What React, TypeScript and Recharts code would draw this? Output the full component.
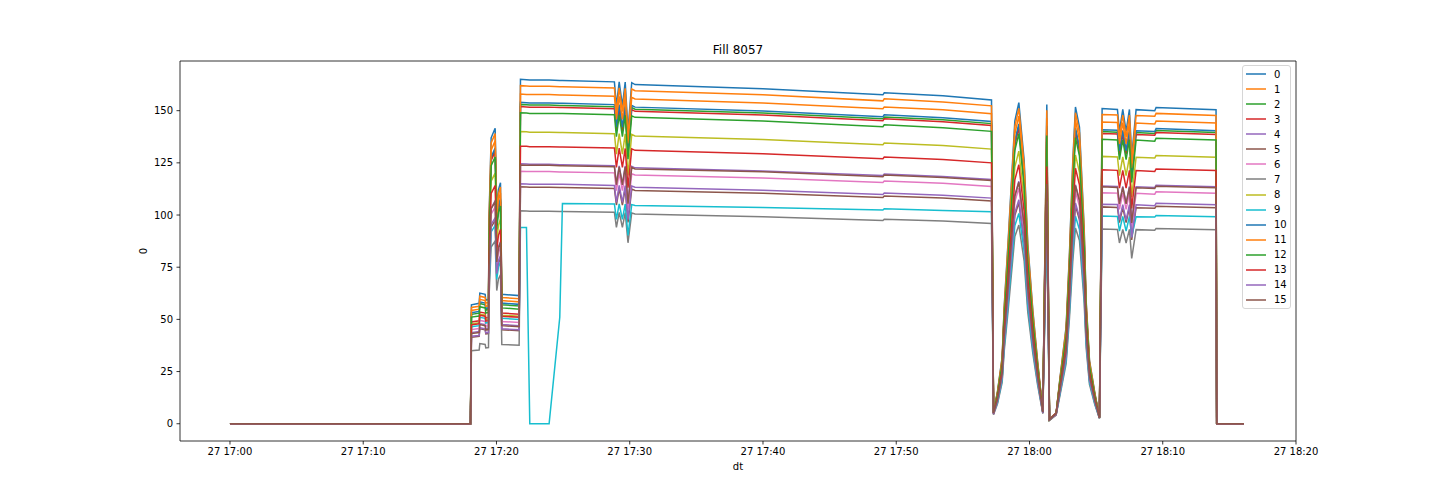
import React from "react";
import { LineChart, Line, XAxis, YAxis, ReferenceArea, Label } from "recharts";

// minutes after 27 17:00
const minutes = [0, 18.05, 18.12, 18.7, 18.75, 19.15, 19.2, 19.4, 19.45, 19.6, 19.9, 20.02, 20.15, 20.3, 20.4, 21.7, 21.8, 22.25, 22.5, 23.95, 24.75, 24.95, 28.85, 29.0, 29.21, 29.45, 29.66, 29.87, 30.15, 30.4, 40, 49, 49.1, 53.5, 57.15, 57.3, 57.6, 57.95, 58.1, 58.4, 58.9, 59.2, 59.6, 59.87, 60.25, 60.6, 61.0, 61.3, 61.5, 62.0, 62.3, 62.75, 63.0, 63.25, 63.45, 63.75, 64.1, 64.25, 64.5, 64.9, 65.25, 65.45, 66.6, 66.75, 67.0, 67.25, 67.5, 67.67, 68.0, 69.4, 69.5, 74.0, 74.05, 76.1];

const ch0 = [0, 0, 57.0, 57.7, 62.6, 62.0, 59.2, 59.5, 100.7, 137.0, 141.6, 103.1, 112.2, 115.5, 62.0, 61.4, 165.0, 164.8, 164.7, 164.7, 164.5, 164.5, 163.8, 152.3, 163.8, 152.3, 163.7, 140.3, 163.4, 162.5, 160.5, 157.6, 158.6, 157.1, 155.1, 5.5, 15.5, 32.0, 55.9, 87.9, 145.0, 153.9, 126.1, 86.6, 54.5, 30.5, 6.0, 153.0, 2.0, 5.0, 22.6, 46.5, 81.8, 126.1, 151.8, 142.1, 94.4, 59.2, 30.5, 14.9, 3.0, 151.0, 150.6, 140.1, 150.6, 140.1, 150.6, 128.0, 150.5, 150.0, 151.5, 150.5, 0, 0];
const ch1 = [0, 0, 55.7, 56.3, 61.1, 60.5, 57.8, 58.1, 98.8, 134.5, 139.0, 101.3, 110.2, 113.4, 60.5, 59.9, 162.0, 161.8, 161.7, 161.7, 161.5, 161.5, 160.9, 149.5, 160.9, 149.5, 160.7, 137.7, 160.4, 159.6, 157.6, 154.7, 155.7, 154.2, 152.3, 5.6, 15.2, 31.4, 54.9, 86.3, 142.4, 151.1, 123.8, 85.1, 53.5, 30.0, 5.8, 150.2, 2.1, 5.1, 22.2, 45.7, 80.4, 123.8, 149.0, 139.5, 92.7, 58.2, 30.0, 14.6, 3.1, 148.2, 147.9, 137.5, 147.9, 137.5, 147.9, 125.7, 147.7, 147.3, 148.7, 147.7, 0, 0];
const ch2 = [0, 0, 52.4, 53.0, 57.6, 57.0, 54.4, 54.7, 93.3, 127.0, 131.3, 95.6, 104.0, 107.1, 57.0, 56.4, 153.0, 152.8, 152.7, 152.7, 152.5, 152.5, 151.9, 141.2, 151.9, 141.2, 151.8, 130.1, 151.5, 150.7, 148.9, 146.1, 147.0, 145.7, 143.8, 5.2, 14.4, 29.7, 51.9, 81.5, 134.5, 142.7, 116.9, 80.3, 50.5, 28.3, 5.7, 141.8, 1.8, 4.8, 21.0, 43.1, 75.9, 116.9, 140.8, 131.7, 87.5, 54.9, 28.3, 13.8, 2.8, 140.0, 139.7, 129.9, 139.7, 129.9, 139.7, 118.7, 139.5, 139.1, 140.5, 139.5, 0, 0];
const ch3 = [0, 0, 48.8, 49.3, 53.5, 53.0, 50.6, 50.9, 92.7, 126.2, 130.4, 95.0, 103.4, 106.4, 53.0, 52.5, 152.0, 151.8, 151.7, 151.7, 151.5, 151.5, 150.9, 140.3, 150.9, 140.3, 150.8, 129.2, 150.5, 149.7, 147.9, 145.2, 146.1, 144.7, 142.9, 5.4, 14.3, 29.5, 51.5, 81.0, 133.6, 141.8, 116.1, 79.8, 50.2, 28.1, 6.0, 140.9, 2.2, 5.2, 20.8, 42.9, 75.4, 116.1, 139.8, 130.9, 86.9, 54.6, 28.1, 13.7, 3.2, 139.1, 138.8, 129.0, 138.8, 129.0, 138.8, 118.0, 138.6, 138.2, 139.5, 138.6, 0, 0];
const ch4 = [0, 0, 43.7, 44.2, 48.0, 47.5, 45.4, 45.6, 75.9, 103.3, 106.8, 77.8, 84.7, 87.2, 47.5, 47.0, 124.5, 124.4, 124.3, 124.3, 124.1, 124.1, 123.6, 114.9, 123.6, 114.9, 123.5, 105.8, 123.3, 122.6, 121.1, 118.9, 119.6, 118.5, 117.0, 4.9, 11.7, 24.2, 42.2, 66.4, 109.4, 116.2, 95.1, 65.4, 41.1, 23.0, 5.4, 115.4, 1.9, 4.6, 17.1, 35.1, 61.8, 95.1, 114.5, 107.2, 71.2, 44.7, 23.0, 11.2, 2.8, 113.9, 113.7, 105.7, 113.7, 105.7, 113.7, 96.6, 113.5, 113.2, 114.3, 113.5, 0, 0];
const ch5 = [0, 0, 41.4, 41.9, 45.5, 45.0, 43.0, 43.2, 69.2, 94.2, 97.4, 70.9, 77.2, 79.5, 45.0, 44.6, 113.5, 113.4, 113.3, 113.3, 113.2, 113.2, 112.7, 104.8, 112.7, 104.8, 112.6, 96.5, 112.4, 111.8, 110.4, 108.4, 109.1, 108.1, 106.7, 4.6, 10.7, 22.0, 38.5, 60.5, 99.8, 105.9, 86.7, 59.6, 37.5, 21.0, 5.1, 105.2, 1.8, 4.3, 15.5, 32.0, 56.3, 86.7, 104.4, 97.7, 64.9, 40.7, 21.0, 10.2, 2.6, 103.9, 103.6, 96.4, 103.6, 96.4, 103.6, 88.1, 103.5, 103.2, 104.2, 103.5, 0, 0];
const ch6 = [0, 0, 45.1, 45.6, 49.5, 49.0, 46.8, 47.0, 73.8, 100.4, 103.8, 75.6, 82.3, 84.7, 49.0, 48.5, 121.0, 120.9, 120.8, 120.8, 120.6, 120.6, 120.2, 111.7, 120.2, 111.7, 120.0, 102.9, 119.8, 119.2, 117.7, 115.6, 116.3, 115.2, 113.7, 4.8, 11.4, 23.5, 41.0, 64.5, 106.4, 112.9, 92.4, 63.5, 39.9, 22.4, 5.3, 112.2, 1.8, 4.5, 16.6, 34.1, 60.0, 92.4, 111.3, 104.2, 69.2, 43.4, 22.4, 10.9, 2.7, 110.7, 110.5, 102.7, 110.5, 102.7, 110.5, 93.9, 110.4, 110.0, 111.1, 110.4, 0, 0];
const ch7 = [0, 0, 35.0, 35.3, 38.4, 38.0, 36.3, 36.5, 62.2, 84.7, 87.5, 63.8, 69.4, 71.4, 38.0, 37.6, 102.0, 101.9, 101.8, 101.8, 101.7, 101.7, 101.3, 94.1, 101.3, 94.1, 101.2, 86.7, 101.0, 100.5, 99.2, 97.4, 98.0, 97.1, 95.9, 4.3, 9.6, 19.8, 34.6, 54.4, 89.7, 95.2, 77.9, 53.6, 33.7, 18.9, 4.8, 94.6, 1.6, 4.1, 14.0, 28.8, 50.6, 77.9, 93.8, 87.8, 58.3, 36.6, 18.9, 9.2, 2.5, 93.3, 93.1, 86.6, 93.1, 86.6, 93.1, 79.2, 93.0, 92.7, 93.6, 93.0, 0, 0];
const ch8 = [0, 0, 47.8, 48.4, 52.5, 52.0, 49.7, 49.9, 85.4, 116.2, 120.1, 87.5, 95.2, 98.0, 52.0, 51.5, 140.0, 139.9, 139.7, 139.7, 139.6, 139.6, 139.0, 129.2, 139.0, 129.2, 138.9, 119.0, 138.6, 137.9, 136.2, 133.7, 134.5, 133.3, 131.6, 5.1, 13.2, 27.2, 47.5, 74.6, 123.1, 130.6, 107.0, 73.5, 46.2, 25.9, 5.6, 129.8, 2.0, 4.7, 19.2, 39.5, 69.4, 107.0, 128.8, 120.5, 80.1, 50.3, 25.9, 12.6, 2.8, 128.1, 127.8, 118.9, 127.8, 118.9, 127.8, 108.6, 127.7, 127.3, 128.5, 127.7, 0, 0];
const ch9 = [0, 0, 46.5, 47.0, 51.0, 50.5, 48.2, 48.5, 67.5, 91.9, 95.0, 69.2, 75.3, 77.5, 50.5, 50.0, 94.0, 94.0, 0, 0, 51.0, 105.5, 105.3, 97.9, 105.3, 97.9, 105.2, 90.2, 105.0, 104.6, 103.6, 102.4, 103.0, 102.2, 101.6, 5.0, 10.2, 21.0, 36.6, 57.6, 94.9, 100.8, 82.5, 56.7, 35.6, 20.0, 5.3, 100.1, 2.0, 4.6, 14.8, 30.5, 53.6, 82.5, 99.4, 93.0, 61.8, 38.8, 20.0, 9.7, 2.8, 99.5, 99.3, 92.3, 99.3, 92.3, 99.3, 89.6, 99.2, 99.0, 99.8, 99.2, 0, 0];
const ch10 = [0, 0, 53.2, 53.8, 58.4, 57.8, 55.2, 55.5, 93.9, 127.8, 132.1, 96.3, 104.7, 107.8, 57.8, 57.2, 154.0, 153.8, 153.7, 153.7, 153.5, 153.5, 152.9, 142.1, 152.9, 142.1, 152.8, 130.9, 152.5, 151.7, 149.8, 147.1, 148.0, 146.6, 144.8, 5.3, 14.5, 29.9, 52.2, 82.1, 135.4, 143.7, 117.7, 80.9, 50.8, 28.5, 5.9, 142.8, 2.0, 5.0, 21.1, 43.4, 76.4, 117.7, 141.7, 132.6, 88.1, 55.3, 28.5, 13.9, 3.0, 140.9, 140.6, 130.7, 140.6, 130.7, 140.6, 119.5, 140.4, 140.0, 141.4, 140.4, 0, 0];
const ch11 = [0, 0, 54.3, 54.9, 59.6, 59.0, 56.3, 56.6, 96.4, 131.1, 135.6, 98.8, 107.4, 110.6, 59.0, 58.4, 158.0, 157.8, 157.7, 157.7, 157.5, 157.5, 156.9, 145.8, 156.9, 145.8, 156.7, 134.3, 156.4, 155.6, 153.7, 150.9, 151.8, 150.4, 148.5, 5.4, 14.9, 30.7, 53.6, 84.2, 138.9, 147.4, 120.7, 83.0, 52.1, 29.2, 6.1, 146.5, 1.9, 4.9, 21.6, 44.6, 78.4, 120.7, 145.4, 136.0, 90.4, 56.7, 29.2, 14.2, 2.9, 144.6, 144.3, 134.1, 144.3, 134.1, 144.3, 122.6, 144.1, 143.6, 145.0, 144.1, 0, 0];
const ch12 = [0, 0, 51.1, 51.6, 56.1, 55.5, 53.0, 53.3, 90.9, 123.7, 127.8, 93.1, 101.3, 104.3, 55.5, 54.9, 149.0, 148.9, 148.7, 148.7, 148.6, 148.6, 148.0, 137.5, 148.0, 137.5, 147.8, 126.7, 147.5, 146.8, 145.0, 142.3, 143.2, 141.8, 140.1, 5.3, 14.0, 28.9, 50.5, 79.4, 131.0, 139.0, 113.8, 78.2, 49.2, 27.6, 5.8, 138.1, 1.9, 4.9, 20.4, 42.0, 73.9, 113.8, 137.1, 128.3, 85.2, 53.5, 27.6, 13.4, 2.9, 136.3, 136.0, 126.5, 136.0, 126.5, 136.0, 115.6, 135.9, 135.4, 136.8, 135.9, 0, 0];
const ch13 = [0, 0, 47.4, 47.9, 52.0, 51.5, 49.2, 49.4, 81.1, 110.4, 114.1, 83.1, 90.4, 93.1, 51.5, 51.0, 133.0, 132.9, 132.7, 132.7, 132.6, 132.6, 132.1, 122.8, 132.1, 122.8, 131.9, 113.1, 131.7, 131.0, 129.4, 127.0, 127.8, 126.6, 125.0, 5.0, 12.5, 25.8, 45.1, 70.9, 116.9, 124.1, 101.6, 69.8, 43.9, 24.6, 5.5, 123.3, 2.1, 4.8, 18.2, 37.5, 66.0, 101.6, 122.4, 114.5, 76.1, 47.7, 24.6, 12.0, 3.0, 121.7, 121.4, 112.9, 121.4, 112.9, 121.4, 103.2, 121.3, 120.9, 122.1, 121.3, 0, 0];
const ch14 = [0, 0, 41.9, 42.3, 46.0, 45.5, 43.5, 43.7, 70.2, 95.5, 98.7, 71.9, 78.2, 80.5, 45.5, 45.0, 115.0, 114.9, 114.8, 114.8, 114.7, 114.7, 114.2, 106.1, 114.2, 106.1, 114.1, 97.8, 113.9, 113.3, 111.9, 109.8, 110.5, 109.5, 108.1, 4.7, 10.8, 22.3, 39.0, 61.3, 101.1, 107.3, 87.9, 60.4, 38.0, 21.3, 5.2, 106.6, 1.9, 4.4, 15.8, 32.4, 57.0, 87.9, 105.8, 99.0, 65.8, 41.3, 21.3, 10.4, 2.8, 105.2, 105.0, 97.6, 105.0, 97.6, 105.0, 89.2, 104.9, 104.5, 105.6, 104.9, 0, 0];
const ch15 = [0, 0, 43.2, 43.7, 47.5, 47.0, 44.9, 45.1, 75.6, 102.9, 106.4, 77.5, 84.3, 86.8, 47.0, 46.5, 124.0, 123.9, 123.8, 123.8, 123.6, 123.6, 123.1, 114.5, 123.1, 114.5, 123.0, 105.4, 122.8, 122.1, 120.7, 118.4, 119.2, 118.0, 116.6, 5.0, 11.7, 24.1, 42.0, 66.1, 109.0, 115.7, 94.7, 65.1, 40.9, 22.9, 5.5, 114.9, 2.0, 4.7, 17.0, 35.0, 61.5, 94.7, 114.1, 106.8, 70.9, 44.5, 22.9, 11.2, 2.9, 113.5, 113.2, 105.3, 113.2, 105.3, 113.2, 96.2, 113.1, 112.7, 113.8, 113.1, 0, 0];

const channels = [ch0, ch1, ch2, ch3, ch4, ch5, ch6, ch7, ch8, ch9, ch10, ch11, ch12, ch13, ch14, ch15];
const colors = ["#1f77b4", "#ff7f0e", "#2ca02c", "#d62728", "#9467bd", "#8c564b", "#e377c2", "#7f7f7f", "#bcbd22", "#17becf"];

const xTicks = [0, 10, 20, 30, 40, 50, 60, 70, 80];
const yTicks = [0, 25, 50, 75, 100, 125, 150];
const xDomain = [-3.75, 80];
const yDomain = [-8.27, 173.8];

const rows = minutes.map((t, i) => {
  const row: any = { t };
  channels.forEach((c, k) => {
    row["s" + k] = c[i];
  });
  return row;
});

const fmtTime = (m: number) => {
  const total = 17 * 60 + m;
  const h = Math.floor(total / 60);
  const mm = Math.round(total % 60);
  return `27 ${h}:${mm < 10 ? "0" + mm : mm}`;
};

const FONT = "'DejaVu Sans', sans-serif";
const tickStyle = { fontSize: 10, fill: "#000", fontFamily: FONT };

const LegendBox = () => (
  <div
    style={{
      position: "absolute",
      left: 1242,
      top: 65,
      width: 47,
      height: 241,
      border: "1px solid #d6d6d6",
      borderRadius: 3,
      background: "rgba(255,255,255,0.8)",
      fontFamily: FONT,
      fontSize: 10,
      paddingTop: 0.5
    }}
  >
    {channels.map((_, k) => (
      <div key={k} style={{ display: "flex", alignItems: "center", height: 15.07 }}>
        <svg width={20} height={4} style={{ marginLeft: 3 }}>
          <line x1={0} y1={2} x2={20} y2={2} stroke={colors[k % 10]} strokeWidth={1.5} />
        </svg>
        <span style={{ marginLeft: 8, color: "#000" }}>{k}</span>
      </div>
    ))}
  </div>
);

export default function App() {
  return (
    <div style={{ position: "absolute", left: 0, top: 0, width: 1440, height: 504, background: "#fff" }}>
      <div
        style={{
          position: "absolute",
          left: 180,
          top: 43,
          width: 1116,
          textAlign: "center",
          fontFamily: FONT,
          fontSize: 12,
          lineHeight: "14px",
          color: "#000"
        }}
      >
        Fill 8057
      </div>
      <LineChart width={1440} height={504} data={rows} margin={{ top: 61, right: 144, bottom: 23, left: 120 }}>
        <XAxis
          dataKey="t"
          type="number"
          domain={xDomain}
          ticks={xTicks}
          allowDataOverflow
          tickFormatter={fmtTime}
          axisLine={false}
          tickLine={{ stroke: "#000", strokeWidth: 0.8 }}
          tickSize={3.5}
          tickMargin={3.5}
          tick={tickStyle}
          height={40}
        >
          <Label
            content={() => (
              <text x={738} y={470} textAnchor="middle" fontSize={10} fontFamily={FONT} fill="#000">
                dt
              </text>
            )}
          />
        </XAxis>
        <YAxis
          type="number"
          domain={yDomain}
          ticks={yTicks}
          allowDataOverflow
          axisLine={false}
          tickLine={{ stroke: "#000", strokeWidth: 0.8 }}
          tickSize={3.5}
          tickMargin={3.5}
          tick={tickStyle}
          width={60}
        >
          <Label
            content={() => (
              <text
                x={143}
                y={251}
                transform="rotate(-90 143 251)"
                textAnchor="middle"
                dominantBaseline="central"
                fontSize={10}
                fontFamily={FONT}
                fill="#000"
              >
                0
              </text>
            )}
          />
        </YAxis>
        {channels.map((_, k) => (
          <Line
            key={k}
            type="linear"
            dataKey={"s" + k}
            stroke={colors[k % 10]}
            strokeWidth={1.5}
            dot={false}
            activeDot={false}
            isAnimationActive={false}
          />
        ))}
        <ReferenceArea
          x1={xDomain[0]}
          x2={xDomain[1]}
          y1={yDomain[0]}
          y2={yDomain[1]}
          fill="none"
          fillOpacity={0}
          stroke="#000"
          strokeWidth={0.8}
        />
      </LineChart>
      <LegendBox />
    </div>
  );
}
